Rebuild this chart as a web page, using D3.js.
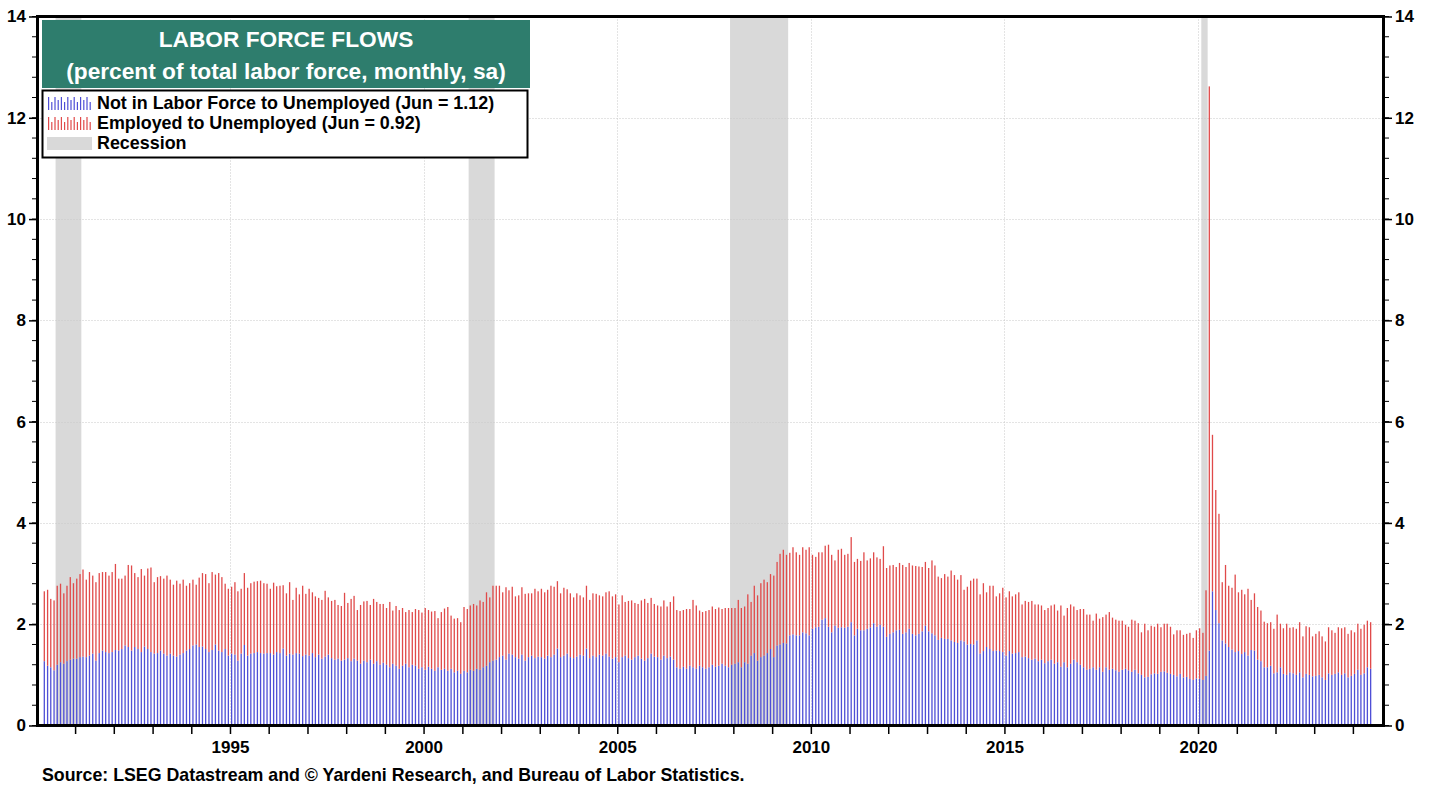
<!DOCTYPE html>
<html><head><meta charset="utf-8">
<script src="https://cdn.jsdelivr.net/npm/d3@7"></script>
<style>
body{margin:0;background:#fff}
svg{display:block}
text{font-family:"Liberation Sans",Arial,Helvetica,sans-serif;font-weight:bold}
</style>
</head><body>
<svg id="chart" width="1438" height="789"></svg>
<script>
// ---------------- DATA ----------------
// monthly observations, first one = March 1990, last one = June 2024
const firstYear = 1990, firstMonthIndex = 2;

// Not in Labor Force to Unemployed (% of labor force)
const nilfToUnemployed = [
  1.27,1.18,1.15,1.09,1.20,1.25,1.22,1.27,1.30,1.32,                 // 1990 (Mar-Dec)
  1.32,1.35,1.36,1.35,1.38,1.42,1.28,1.43,1.48,1.45,1.43,1.45,       // 1991
  1.49,1.48,1.51,1.58,1.55,1.48,1.55,1.51,1.45,1.56,1.51,1.45,       // 1992
  1.42,1.43,1.48,1.42,1.38,1.42,1.38,1.36,1.40,1.43,1.48,1.51,       // 1993
  1.58,1.60,1.55,1.56,1.51,1.45,1.49,1.60,1.48,1.45,1.51,1.38,       // 1994
  1.42,1.40,1.28,1.42,1.59,1.38,1.42,1.43,1.45,1.43,1.42,1.43,       // 1995
  1.43,1.40,1.45,1.43,1.52,1.38,1.42,1.40,1.43,1.42,1.37,1.40,       // 1996
  1.38,1.43,1.35,1.40,1.32,1.36,1.40,1.33,1.30,1.32,1.28,1.30,       // 1997
  1.33,1.27,1.32,1.28,1.22,1.28,1.25,1.30,1.22,1.27,1.20,1.24,       // 1998
  1.20,1.15,1.22,1.18,1.12,1.18,1.22,1.15,1.20,1.18,1.12,1.15,       // 1999
  1.10,1.16,1.12,1.08,1.15,1.10,1.12,1.08,1.12,1.05,1.08,1.02,       // 2000
  1.08,1.05,1.10,1.08,1.12,1.10,1.15,1.18,1.25,1.28,1.30,1.35,       // 2001
  1.38,1.30,1.42,1.40,1.35,1.32,1.40,1.28,1.35,1.38,1.33,1.36,       // 2002
  1.35,1.32,1.38,1.35,1.40,1.52,1.35,1.38,1.42,1.35,1.33,1.36,       // 2003
  1.40,1.38,1.52,1.33,1.38,1.35,1.40,1.38,1.42,1.36,1.32,1.35,       // 2004
  1.25,1.35,1.38,1.33,1.30,1.35,1.38,1.32,1.28,1.33,1.42,1.36,       // 2005
  1.35,1.30,1.38,1.33,1.36,1.30,1.15,1.12,1.16,1.12,1.18,1.15,       // 2006
  1.12,1.18,1.15,1.12,1.15,1.20,1.16,1.18,1.22,1.18,1.15,1.20,       // 2007
  1.22,1.25,1.15,1.25,1.22,1.38,1.43,1.28,1.35,1.38,1.43,1.51,       // 2008
  1.35,1.58,1.60,1.63,1.62,1.78,1.80,1.78,1.78,1.84,1.82,1.78,       // 2009
  1.91,1.94,1.95,2.09,2.12,1.95,1.84,1.97,1.93,1.94,1.93,1.95,       // 2010
  2.04,1.78,1.91,1.88,1.88,1.91,1.94,2.02,1.95,1.99,1.95,1.75,       // 2011
  1.81,1.84,1.88,1.89,1.81,1.84,1.91,1.81,1.78,1.81,1.86,1.97,       // 2012
  1.86,1.82,1.78,1.69,1.73,1.71,1.71,1.68,1.65,1.63,1.68,1.66,       // 2013
  1.60,1.61,1.60,1.68,1.42,1.47,1.55,1.51,1.47,1.48,1.47,1.45,       // 2014
  1.38,1.47,1.42,1.43,1.45,1.35,1.36,1.33,1.30,1.32,1.27,1.30,       // 2015
  1.23,1.27,1.30,1.22,1.25,1.16,1.25,1.15,1.22,1.30,1.25,1.20,       // 2016
  1.15,1.10,1.12,1.15,1.10,1.15,1.06,1.15,1.10,1.12,1.09,1.06,       // 2017
  1.10,1.12,1.09,1.06,1.10,1.03,1.00,0.95,0.96,1.01,1.03,1.02,       // 2018
  1.06,1.07,1.04,1.02,1.00,0.97,1.02,0.95,0.96,0.92,0.90,0.93,       // 2019
  0.92,0.90,0.98,1.48,2.65,2.28,2.02,1.68,1.62,1.55,1.50,1.45,       // 2020
  1.47,1.41,1.45,1.38,1.49,1.48,1.30,1.27,1.15,1.15,1.18,1.03,       // 2021
  1.05,1.15,1.02,1.00,1.05,1.03,1.00,1.05,0.95,1.02,1.00,0.97,       // 2022
  0.98,1.00,0.95,0.90,1.03,1.00,1.02,1.05,1.00,1.03,0.95,0.98,       // 2023
  1.02,1.10,1.00,1.03,1.15,1.12                                      // 2024 (Jan-Jun)
];

// Employed to Unemployed (% of labor force)
const employedToUnemployed = [
  1.38,1.50,1.35,1.38,1.56,1.55,1.39,1.49,1.63,1.49,                 // 1990 (Mar-Dec)
  1.58,1.64,1.72,1.53,1.65,1.54,1.55,1.58,1.55,1.58,1.53,1.58,       // 1991
  1.70,1.42,1.39,1.38,1.62,1.68,1.46,1.42,1.64,1.40,1.59,1.67,       // 1992
  1.41,1.50,1.47,1.48,1.58,1.46,1.40,1.50,1.40,1.45,1.28,1.30,       // 1993
  1.30,1.18,1.37,1.45,1.48,1.36,1.54,1.38,1.53,1.48,1.29,1.32,       // 1994
  1.32,1.43,1.37,1.28,1.42,1.34,1.39,1.41,1.40,1.43,1.39,1.37,       // 1995
  1.27,1.42,1.30,1.33,1.25,1.23,1.41,1.08,1.29,1.17,1.39,1.20,       // 1996
  1.32,1.20,1.20,1.12,1.16,1.30,1.13,1.13,1.18,1.06,1.08,1.32,       // 1997
  1.09,1.23,1.24,1.00,1.16,1.17,1.21,1.08,1.28,1.17,1.20,1.16,       // 1998
  1.12,1.29,1.05,1.18,1.16,1.14,1.02,1.13,1.04,1.12,1.16,1.08,       // 1999
  1.22,1.12,1.13,1.18,0.97,1.14,1.19,1.26,1.05,1.06,1.04,1.02,       // 2000
  1.26,1.25,1.27,1.32,1.25,1.37,1.29,1.45,1.28,1.48,1.46,1.41,       // 2001
  1.25,1.43,1.25,1.34,1.20,1.25,1.33,1.32,1.26,1.23,1.37,1.29,       // 2002
  1.35,1.31,1.30,1.41,1.34,1.33,1.26,1.34,1.27,1.26,1.20,1.25,       // 2003
  1.17,1.15,1.24,1.15,1.23,1.25,1.17,1.17,1.21,1.29,1.23,1.24,       // 2004
  1.14,1.22,1.06,1.13,1.17,1.07,1.02,1.15,1.22,1.09,1.10,1.04,       // 2005
  1.02,1.05,1.09,1.02,1.08,1.25,1.13,1.14,1.12,1.18,1.12,1.33,       // 2006
  1.25,1.09,1.09,1.14,1.13,1.15,1.14,1.15,1.08,1.14,1.17,1.12,       // 2007
  1.10,1.23,1.17,1.10,1.37,1.06,1.33,1.29,1.46,1.50,1.40,1.48,       // 2008
  1.61,1.65,1.79,1.84,1.75,1.63,1.72,1.64,1.59,1.68,1.65,1.74,       // 2009
  1.46,1.39,1.47,1.33,1.43,1.62,1.53,1.29,1.54,1.55,1.44,1.44,       // 2010
  1.68,1.45,1.38,1.37,1.54,1.35,1.36,1.40,1.37,1.30,1.59,1.36,       // 2011
  1.35,1.33,1.25,1.32,1.36,1.29,1.30,1.35,1.37,1.33,1.27,1.26,       // 2012
  1.25,1.44,1.38,1.25,1.18,1.28,1.23,1.38,1.32,1.25,1.29,1.02,       // 2013
  1.14,1.25,1.30,1.22,1.17,1.34,1.08,1.25,1.29,1.07,1.14,1.27,       // 2014
  1.15,1.18,1.13,1.16,1.18,1.04,1.10,1.11,1.16,1.07,1.12,1.07,       // 2015
  1.05,1.05,1.07,1.17,1.02,1.21,0.92,1.17,1.17,1.05,1.03,1.10,       // 2016
  1.15,1.09,1.07,0.92,1.11,0.96,1.08,1.04,1.14,1.01,1.00,1.01,       // 2017
  0.97,0.87,0.86,1.03,0.97,0.99,0.84,1.06,0.92,0.96,0.92,0.99,       // 2018
  0.88,0.94,0.97,0.93,0.80,0.91,0.86,0.84,0.85,0.91,0.83,0.95,       // 2019
  1.00,0.93,1.69,11.14,3.09,2.37,2.16,1.15,1.55,1.21,1.22,1.53,      // 2020
  1.16,1.27,1.14,1.32,0.99,1.13,1.04,1.00,0.90,0.87,0.86,0.88,       // 2021
  1.14,0.86,0.90,1.01,0.88,0.91,0.91,0.99,0.81,0.94,0.94,0.79,       // 2022
  0.83,0.86,0.81,0.76,0.91,0.88,0.81,0.89,0.92,0.91,0.86,0.90,       // 2023
  0.82,0.91,0.91,0.96,0.92,0.92                                      // 2024 (Jan-Jun)
];

const recessions = [
  ["1990-07-01","1991-03-01"],
  ["2001-03-01","2001-11-01"],
  ["2007-12-01","2009-06-01"],
  ["2020-02-01","2020-04-01"]
];
const yTickValues = [0,2,4,6,8,10,12,14];
const xLabelYears = [1995,2000,2005,2010,2015,2020];
const titleLines = ["LABOR FORCE FLOWS","(percent of total labor force, monthly, sa)"];
const legendLabels = [
  "Not in Labor Force to Unemployed (Jun = 1.12)",
  "Employed to Unemployed (Jun = 0.92)",
  "Recession"
];
const sourceText = "Source: LSEG Datastream and \u00A9 Yardeni Research, and Bureau of Labor Statistics.";

// ---------------- STYLE / LAYOUT ----------------
const W = 1438, H = 789;
const L = 37.5, R = 1383.5, T = 16.5, B = 725.5;
const BLUE = "#4f4fd6", RED = "#e04a4a", SHADE = "#d9d9d9", TEAL = "#2e7d6d";
const FONT = '"Liberation Sans",Arial,sans-serif';

const svg = d3.select("#chart");
svg.append("rect").attr("width", W).attr("height", H).attr("fill", "#fff");

const x = d3.scaleTime()
  .domain([new Date(1990,0,1), new Date(2024,9,11)])
  .range([36.4, 1383]);
const y = d3.scaleLinear().domain([0,14]).range([B, T]);

const n = Math.min(nilfToUnemployed.length, employedToUnemployed.length);
const rows = d3.range(n).map(i => ({
  date: new Date(firstYear, firstMonthIndex + i, 1),
  blue: nilfToUnemployed[i],
  red: employedToUnemployed[i]
}));

const parse = d3.timeParse("%Y-%m-%d");

// recession shading
svg.append("g").selectAll("rect").data(recessions).join("rect")
  .attr("x", d => x(parse(d[0])))
  .attr("width", d => x(parse(d[1])) - x(parse(d[0])))
  .attr("y", T).attr("height", B - T)
  .attr("fill", SHADE);

// grid
const grid = svg.append("g").attr("stroke", "#c9c9c9").attr("stroke-width", 1).attr("stroke-dasharray", "1,2");
grid.selectAll("line.h").data(yTickValues.filter(v => v > 0 && v < 14)).join("line")
  .attr("x1", L).attr("x2", R).attr("y1", d => Math.round(y(d)) + 0.5).attr("y2", d => Math.round(y(d)) + 0.5);
grid.selectAll("line.v").data(xLabelYears).join("line")
  .attr("y1", T).attr("y2", B).attr("x1", d => Math.round(x(new Date(d,0,1))) + 0.5).attr("x2", d => Math.round(x(new Date(d,0,1))) + 0.5);

// bars
const bw = 1.3, off = 1.0;
const bars = svg.append("g");
bars.selectAll("rect.b").data(rows).join("rect")
  .attr("x", d => x(d.date) + off).attr("width", bw)
  .attr("y", d => y(d.blue)).attr("height", d => y(0) - y(d.blue))
  .attr("fill", BLUE);
bars.selectAll("rect.r").data(rows).join("rect")
  .attr("x", d => x(d.date) + off).attr("width", bw)
  .attr("y", d => y(d.blue + d.red)).attr("height", d => y(d.blue) - y(d.blue + d.red))
  .attr("fill", RED);

// frame
const frame = svg.append("g").attr("stroke", "#000").attr("stroke-width", 3).attr("fill", "none");
frame.append("rect").attr("x", L).attr("y", T).attr("width", R - L).attr("height", B - T);

// y axes with minor ticks
const minor = d3.range(0, 14.001, 0.4).map(v => +v.toFixed(2));
const leftAxis = d3.axisLeft(y).tickValues(yTickValues).tickSize(7).tickPadding(3).tickSizeOuter(0);
const rightAxis = d3.axisRight(y).tickValues(yTickValues).tickSize(7).tickPadding(3).tickSizeOuter(0);
function styleAxis(g) {
  g.select(".domain").remove();
  g.selectAll(".tick line").attr("stroke", "#000").attr("stroke-width", 1.5);
  g.selectAll(".tick text").attr("font-size", 17).attr("font-weight", "bold").attr("fill", "#000")
    .attr("font-family", FONT);
}
svg.append("g").attr("transform", `translate(${L - 1.5},0)`).call(leftAxis).call(styleAxis);
svg.append("g").attr("transform", `translate(${R + 1.5},0)`).call(rightAxis).call(styleAxis);
const mt = svg.append("g").attr("stroke", "#000").attr("stroke-width", 1);
mt.selectAll("line.l").data(minor).join("line")
  .attr("x1", L - 5.5).attr("x2", L - 1.5).attr("y1", d => y(d)).attr("y2", d => y(d));
mt.selectAll("line.r").data(minor).join("line")
  .attr("x1", R + 1.5).attr("x2", R + 5.5).attr("y1", d => y(d)).attr("y2", d => y(d));

// x axis: yearly ticks, labels every 5 years
const yearTicks = d3.range(1991, 2025).map(yr => new Date(yr, 0, 1));
const xAxis = d3.axisBottom(x).tickValues(yearTicks).tickSize(7).tickPadding(7).tickSizeOuter(0)
  .tickFormat(d => xLabelYears.includes(d.getFullYear()) ? String(d.getFullYear()) : "");
svg.append("g").attr("transform", `translate(0,${B + 1.5})`).call(xAxis).call(styleAxis);

// title box
svg.append("rect").attr("x", 42).attr("y", 20).attr("width", 488).attr("height", 68).attr("fill", TEAL);
svg.append("g").selectAll("text").data(titleLines).join("text")
  .attr("x", 286).attr("y", (d, i) => 39 + i * 32).attr("dy", "0.36em")
  .attr("text-anchor", "middle").attr("fill", "#fff").attr("font-size", 22.7).text(d => d);

// legend box
svg.append("rect").attr("x", 42.5).attr("y", 90.5).attr("width", 485).attr("height", 67)
  .attr("fill", "#fff").attr("stroke", "#000").attr("stroke-width", 2);
const swatchHeights = [13, 8, 13, 10, 13, 8, 13, 10, 13, 8, 13, 10, 13, 8];
[BLUE, RED].forEach((c, k) => {
  const base = 110 + k * 20;
  svg.append("g").selectAll("rect").data(swatchHeights).join("rect")
    .attr("x", (d, i) => 48 + i * 3.2).attr("width", 1.2)
    .attr("y", d => base - d).attr("height", d => d).attr("fill", c);
});
svg.append("rect").attr("x", 47).attr("y", 137).attr("width", 45).attr("height", 13).attr("fill", SHADE);
svg.append("g").selectAll("text").data(legendLabels).join("text")
  .attr("x", 97).attr("y", (d, i) => 103 + i * 20).attr("dy", "0.36em")
  .attr("font-size", 17.9).attr("fill", "#000").text(d => d);

// source
svg.append("text").attr("x", 42).attr("y", 781).attr("font-size", 17.8).attr("fill", "#000").text(sourceText);
</script>
</body></html>
